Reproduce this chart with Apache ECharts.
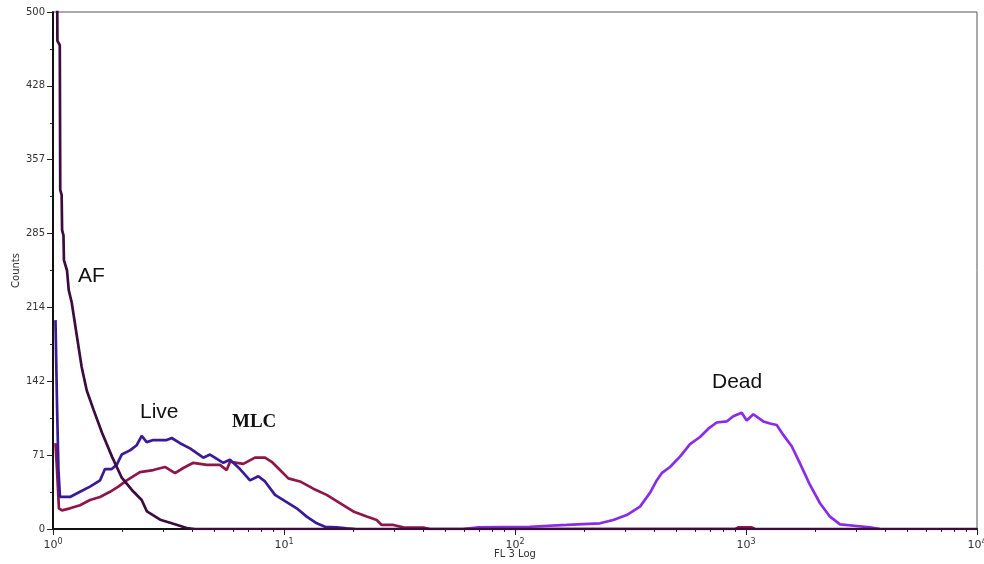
<!DOCTYPE html>
<html>
<head>
<meta charset="utf-8">
<title>FL 3 Log histogram</title>
<script src="https://cdn.jsdelivr.net/npm/echarts@6/dist/echarts.min.js"></script>
<style>
  html, body { margin: 0; padding: 0; background: #ffffff; }
  #chart { width: 984px; height: 564px; }
</style>
</head>
<body>
<div id="chart"></div>
<script>
// FL 3 (log channel) position of each histogram point, and its count
const afX = [1.04, 1.045, 1.07, 1.075, 1.09, 1.095, 1.11, 1.115, 1.15, 1.17, 1.205, 1.27, 1.33, 1.40, 1.50, 1.63, 1.80, 1.98, 2.19, 2.42, 2.55, 2.91, 3.32, 3.79, 4.12, 10000];
const afY = [560, 472, 468, 328, 323, 289, 284, 260, 250, 231, 219, 186, 157, 134, 115, 93, 70, 50, 38, 28, 17, 9, 5, 1, 0, 0];

const liveX = [1.025, 1.041, 1.056, 1.072, 1.185, 1.309, 1.446, 1.598, 1.679, 1.795, 1.887, 1.983, 2.154, 2.303, 2.421, 2.545, 2.718, 3.107, 3.265, 3.547, 3.918, 4.474, 4.783, 5.461, 5.838, 6.45, 7.126, 7.741, 8.275, 9.142, 10.27, 11.35, 12.54, 13.86, 15.05, 16.91, 18.68, 20.3];
const liveY = [202, 120, 57, 31, 31, 36, 41, 47, 58, 58, 62, 72, 76, 81, 90, 84, 86, 86, 88, 83, 78, 69, 72, 64, 67, 58, 47, 51, 46, 33, 26, 20, 12, 5.5, 2.2, 1.6, 0.7, 0];

const mlcX = [1.025, 1.041, 1.061, 1.094, 1.185, 1.309, 1.446, 1.598, 1.765, 1.918, 2.085, 2.38, 2.718, 3.053, 3.375, 3.665, 4.05, 4.629, 5.284, 5.648, 5.838, 6.665, 7.49, 8.275, 8.847, 9.61, 10.44, 11.73, 13.39, 15.3, 17.47, 19.95, 22.8, 25.19, 26.48, 29.73, 32.85, 40.09, 42.85, 900, 925, 1060, 1090];
const mlcY = [83, 57, 20, 18, 20, 23, 28, 31, 36, 41, 47, 55, 57, 60, 54, 59, 64, 62, 62, 57, 65, 63, 69, 69, 65, 57, 49, 46, 39, 33, 25, 17, 12, 8.7, 3.9, 3.9, 1.6, 1.3, 0, 0, 1.5, 1.5, 0];

const deadX = [60, 69.4, 116.1, 167.4, 233.3, 266.4, 304.5, 347.6, 384.1, 410.6, 431.6, 468.8, 518, 572.3, 632.3, 686.9, 746.9, 825.2, 881, 958.2, 1007, 1075.5, 1188.3, 1270.4, 1358.3, 1450.6, 1577.1, 1713, 1892.6, 2091.4, 2310.6, 2552.6, 3014.7, 3442.9, 3801.9];
const deadY = [0, 1.6, 2.2, 3.9, 5.5, 8.7, 13.5, 21.6, 35, 47, 54, 60, 70, 82, 89, 97, 103, 104, 109, 112.5, 105, 111, 104, 102, 100.6, 91, 80, 63.5, 42.6, 24.9, 11.9, 4.5, 2.9, 1.6, 0];

// Axis tick text
const yMax = 500;
const yTickLabels = ['0', '71', '142', '214', '285', '357', '428', '500'];
const xDecadeExponents = ['0', '1', '2', '3', '4'];

// minor log ticks at 2..9 of each decade, expressed in log10 units
const minorLogTicks = [];
for (let d = 0; d < 4; d++) {
  for (let k = 2; k <= 9; k++) minorLogTicks.push(d + Math.log10(k));
}

const pairs = (xs, ys) => xs.map((x, i) => [x, ys[i]]);

const chart = echarts.init(document.getElementById('chart'), null, { renderer: 'canvas' });

const lineSeries = (name, xs, ys, color, z) => ({
  name, type: 'line', data: pairs(xs, ys), xAxisIndex: 0, yAxisIndex: 0,
  showSymbol: false, symbol: 'none', smooth: false, clip: true, z,
  lineStyle: { color, width: 2.7 }, emphasis: { disabled: true }
});

chart.setOption({
  animation: false,
  backgroundColor: '#ffffff',
  textStyle: { fontFamily: 'DejaVu Sans' },
  grid: {
    left: 53, right: 7, top: 12, bottom: 35,
    outerBoundsMode: 'none', containLabel: false,
    show: true, borderColor: '#555555', borderWidth: 1, backgroundColor: 'transparent'
  },
  xAxis: [
    {
      type: 'log', logBase: 10, min: 1, max: 10000, interval: 1,
      name: 'FL 3 Log', nameLocation: 'middle', nameGap: 20, nameMoveOverlap: false,
      nameTextStyle: { fontSize: 10, color: '#333333', fontFamily: 'DejaVu Sans' },
      axisLine: { show: true, lineStyle: { color: '#111111', width: 2 } },
      axisTick: { show: true, length: 6, lineStyle: { color: '#222222', width: 1 } },
      splitLine: { show: false },
      axisLabel: {
        show: true, margin: 9, color: '#333333', fontSize: 11,
        hideOverlap: false, showMinLabel: true, showMaxLabel: true,
        formatter: (v, i) => '10{s|' + xDecadeExponents[i] + '}',
        rich: { s: { fontSize: 8, color: '#333333', padding: [0, 0, 7, 0] } }
      }
    },
    {
      type: 'value', min: 0, max: 4, position: 'bottom',
      axisLine: { show: false },
      axisTick: { show: true, length: 3, customValues: minorLogTicks, lineStyle: { color: '#222222', width: 1 } },
      axisLabel: { show: false },
      splitLine: { show: false }
    }
  ],
  yAxis: {
    type: 'value', min: 0, max: yMax, interval: yMax / 7,
    name: 'Counts', nameLocation: 'middle', nameGap: 32, nameRotate: 90, nameMoveOverlap: false,
    nameTextStyle: { fontSize: 10, color: '#333333', fontFamily: 'DejaVu Sans' },
    axisLine: { show: true, lineStyle: { color: '#111111', width: 2 } },
    axisTick: { show: true, length: 6, lineStyle: { color: '#222222', width: 1 } },
    minorTick: { show: true, splitNumber: 2, length: 3, lineStyle: { color: '#222222', width: 1 } },
    splitLine: { show: false },
    minorSplitLine: { show: false },
    axisLabel: {
      margin: 8, fontSize: 10, color: '#333333',
      formatter: (v) => yTickLabels[Math.round(v / (yMax / 7))]
    }
  },
  series: [
    lineSeries('MLC', mlcX, mlcY, '#8e1649', 3),
    lineSeries('Live', liveX, liveY, '#3a1a98', 4),
    lineSeries('Dead', deadX, deadY, '#8a2be8', 5),
    lineSeries('AF', afX, afY, '#3c0c3e', 6)
  ],
  graphic: [
    { type: 'text', left: 78, top: 266, style: { text: 'AF', font: '21px "Liberation Sans", Arial, sans-serif', fill: '#111111' } },
    { type: 'text', left: 140, top: 402, style: { text: 'Live', font: '21px "Liberation Sans", Arial, sans-serif', fill: '#111111' } },
    { type: 'text', left: 232, top: 413, style: { text: 'MLC', font: 'bold 19px "Liberation Serif", "Times New Roman", serif', fill: '#111111' } },
    { type: 'text', left: 712, top: 372, style: { text: 'Dead', font: '21px "Liberation Sans", Arial, sans-serif', fill: '#111111' } }
  ]
});
</script>
</body>
</html>
